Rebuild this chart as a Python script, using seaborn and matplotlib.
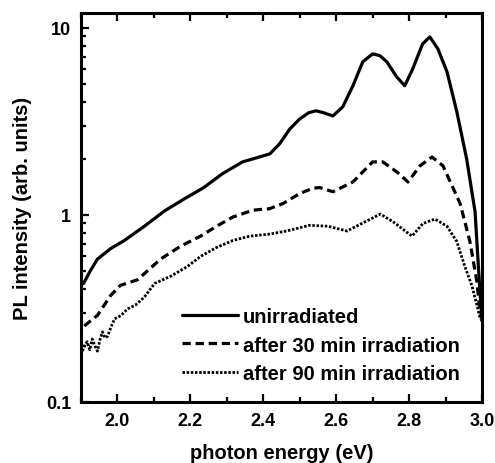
import matplotlib
matplotlib.use("Agg")
import matplotlib.pyplot as plt
import matplotlib.ticker as mticker
import seaborn as sns
import pandas as pd

# ---- data ----
energy_unirr = [1.907, 1.925, 1.945, 1.981, 2.019, 2.074, 2.129, 2.184, 2.226, 2.239, 2.288,
                2.343, 2.382, 2.418, 2.445, 2.473, 2.500, 2.525, 2.545, 2.565, 2.591,
                2.618, 2.646, 2.673, 2.700, 2.720, 2.739, 2.766, 2.788, 2.810, 2.837,
                2.857, 2.879, 2.904, 2.931, 2.958, 2.981, 2.994, 3.000]
pl_unirr = [0.43, 0.50, 0.58, 0.66, 0.73, 0.87, 1.05, 1.22, 1.36, 1.41, 1.66,
            1.92, 2.02, 2.12, 2.40, 2.88, 3.26, 3.52, 3.60, 3.52, 3.38,
            3.78, 4.90, 6.58, 7.26, 7.10, 6.58, 5.47, 4.90, 6.03, 8.20,
            8.95, 7.72, 5.82, 3.56, 1.99, 1.04, 0.40, 0.28]

energy_30 = [1.909, 1.945, 1.981, 2.008, 2.055, 2.118, 2.173, 2.228, 2.272, 2.317,
             2.372, 2.418, 2.454, 2.500, 2.536, 2.555, 2.591, 2.646, 2.700, 2.728,
             2.766, 2.797, 2.830, 2.863, 2.893, 2.918, 2.940, 2.967, 2.986, 2.994, 3.000]
pl_30 = [0.255, 0.29, 0.37, 0.42, 0.45, 0.58, 0.68, 0.77, 0.87, 0.975,
         1.06, 1.08, 1.15, 1.30, 1.39, 1.40, 1.33, 1.50, 1.92, 1.92,
         1.70, 1.50, 1.83, 2.04, 1.83, 1.43, 1.15, 0.72, 0.44, 0.31, 0.28]

energy_90 = [1.904, 1.910, 1.917, 1.924, 1.931, 1.938, 1.945, 1.952, 1.959, 1.966,
             1.973, 1.982, 1.992, 2.010, 2.027, 2.050, 2.074, 2.102, 2.146, 2.192,
             2.228, 2.272, 2.317, 2.363, 2.418, 2.464, 2.527, 2.577, 2.630, 2.680,
             2.721, 2.756, 2.808, 2.838, 2.871, 2.904, 2.931, 2.953, 2.972, 2.986,
             2.994, 3.000]
pl_90 = [0.187, 0.20, 0.21, 0.19, 0.217, 0.20, 0.187, 0.215, 0.237, 0.22,
         0.225, 0.25, 0.278, 0.29, 0.314, 0.33, 0.364, 0.43, 0.47, 0.53,
         0.60, 0.67, 0.73, 0.77, 0.79, 0.82, 0.88, 0.87, 0.82, 0.92,
         1.01, 0.92, 0.77, 0.90, 0.95, 0.87, 0.72, 0.53, 0.42, 0.33,
         0.285, 0.27]

labels = ["unirradiated", "after 30 min irradiation", "after 90 min irradiation"]
x_ticks = [2.0, 2.2, 2.4, 2.6, 2.8, 3.0]
x_ticklabels = ["2.0", "2.2", "2.4", "2.6", "2.8", "3.0"]
y_ticks = [0.1, 1, 10]
y_ticklabels = ["0.1", "1", "10"]

# ---- style ----
sns.set_style("ticks")
plt.rcParams["font.family"] = ["Liberation Sans", "DejaVu Sans"]
plt.rcParams["font.weight"] = "bold"
for key in ["axes.edgecolor", "xtick.color", "ytick.color", "text.color",
            "axes.labelcolor"]:
    plt.rcParams[key] = "black"

fig = plt.figure(figsize=(4.95, 4.64), dpi=100)
ax = fig.add_axes([0.1636, 0.1315, 0.8101, 0.8383])

df1 = pd.DataFrame({"E": energy_unirr, "I": pl_unirr})
df2 = pd.DataFrame({"E": energy_30, "I": pl_30})
df3 = pd.DataFrame({"E": energy_90, "I": pl_90})

sns.lineplot(data=df1, x="E", y="I", ax=ax, color="black", lw=2.3,
             linestyle="-", label=labels[0], sort=False, estimator=None)
sns.lineplot(data=df2, x="E", y="I", ax=ax, color="black", lw=2.3,
             linestyle=(0, (2.6, 1.5)), label=labels[1], sort=False, estimator=None)
sns.lineplot(data=df3, x="E", y="I", ax=ax, color="black", lw=2.0,
             linestyle=(0, (0.9, 0.6)), label=labels[2], sort=False, estimator=None)

ax.set_yscale("log")
ax.set_xlim(1.9, 3.0)
ax.set_ylim(0.1, 12)

ax.set_xticks(x_ticks)
ax.set_xticklabels(x_ticklabels)
ax.xaxis.set_minor_locator(mticker.MultipleLocator(0.1))
ax.set_yticks(y_ticks)
ax.set_yticklabels(y_ticklabels)
ax.yaxis.set_minor_locator(mticker.LogLocator(base=10, subs=range(2, 10)))
ax.yaxis.set_minor_formatter(mticker.NullFormatter())

ax.tick_params(axis="both", which="both", direction="in", width=1.6,
               labelsize=13, pad=7, colors="black")
ax.tick_params(axis="both", which="major", length=6)
ax.tick_params(axis="both", which="minor", length=3.5)
ax.tick_params(axis="x", which="both", top=True, bottom=True)
ax.tick_params(axis="y", which="both", left=True, right=False)
for lab in ax.get_xticklabels() + ax.get_yticklabels():
    lab.set_fontweight("bold")

for sp in ax.spines.values():
    sp.set_linewidth(2.2)
    sp.set_color("black")
    sp.set_visible(True)

ax.set_xlabel("photon energy (eV)", fontsize=14.5, fontweight="bold", labelpad=10,
              color="black")
ax.set_ylabel("PL intensity (arb. units)", fontsize=14.5, fontweight="bold", labelpad=10,
              color="black")

leg = ax.legend(loc="upper left", bbox_to_anchor=(0.251, 0.243), frameon=False,
                handlelength=2.8, handletextpad=0.25, labelspacing=0.45,
                borderpad=0, borderaxespad=0,
                prop={"size": 14.5, "weight": "bold"})
for t in leg.get_texts():
    t.set_color("black")

fig.savefig("out.png", dpi=100)
